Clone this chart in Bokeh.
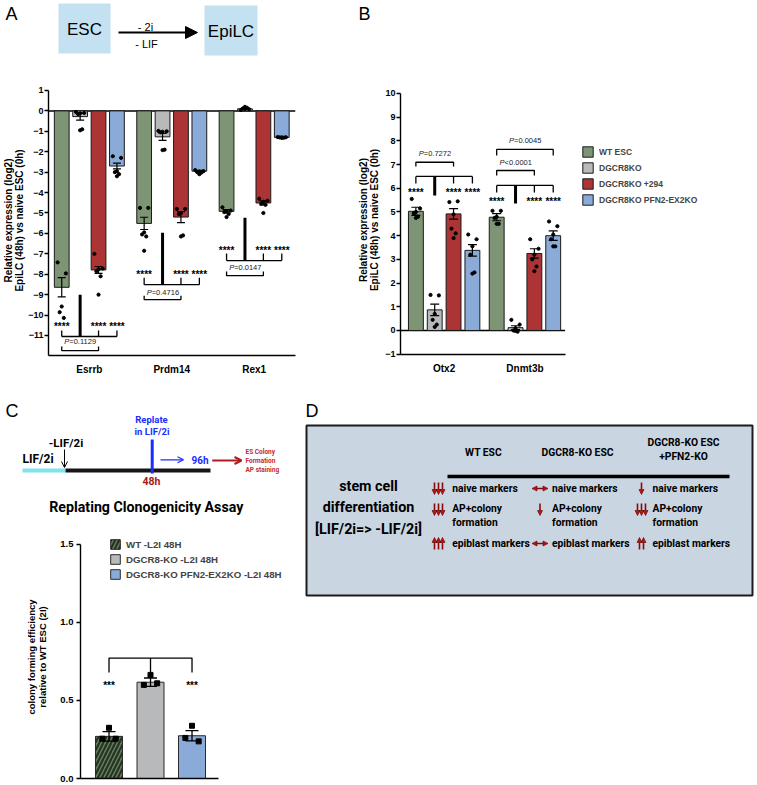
from bokeh.plotting import figure
from bokeh.layouts import row, column
from bokeh.models import (Range1d, FixedTicker, Whisker, TeeHead, Legend, LegendItem,
                          ColumnDataSource, Arrow, NormalHead, OpenHead,
                          PrintfTickFormatter)
from bokeh.core.properties import value
from bokeh.embed import file_html
from bokeh.resources import INLINE

SANS = "Liberation Sans"
NARROW = "Roboto"

# ================= DATA =================
series_names = ["WT ESC", "DGCR8KO", "DGCR8KO +294", "DGCR8KO PFN2-EX2KO"]
series_colors = ["#7d9574", "#b8b9bb", "#ad3434", "#8aabd8"]

# ---- Panel A: naive markers ----
genes_A = ["Esrrb", "Prdm14", "Rex1"]
mean_wt_A = [-8.64, -5.51, -4.92]
mean_ko_A = [-0.28, -1.27, 0.10]
mean_294_A = [-7.79, -5.20, -4.51]
mean_pfn_A = [-2.70, -2.95, -1.30]
sem_wt_A = [0.47, 0.30, 0.08]
sem_ko_A = [0.17, 0.17, 0.03]
sem_294_A = [0.17, 0.27, 0.10]
sem_pfn_A = [0.14, 0.04, 0.02]
dots_wt_A = [[-7.42, -7.96, -9.58, -9.86, -10.14],
             [-4.75, -4.75, -5.95, -6.05, -6.15, -6.85],
             [-4.72, -4.88, -4.92, -4.95, -5.05, -5.20]]
dots_ko_A = [[-0.05, -0.10, -0.12, -0.15, -0.90, -0.95],
             [-0.98, -1.00, -1.02, -1.05, -1.90, -1.92],
             [0.05, 0.08, 0.10, 0.12, 0.15, 0.20]]
dots_294_A = [[-7.00, -7.72, -7.75, -7.85, -8.10, -9.00],
              [-4.80, -4.80, -5.00, -5.05, -6.10, -6.15],
              [-4.30, -4.40, -4.45, -4.55, -4.60, -5.00]]
dots_pfn_A = [[-2.22, -2.30, -2.95, -3.00, -3.10, -3.20],
              [-2.90, -2.95, -2.97, -3.00, -3.02, -3.10],
              [-1.28, -1.29, -1.30, -1.30, -1.31, -1.32]]
# significance annotations (A)
stars_A = ["****", "****", "****"]
star_y_A = [-10.45, -7.91, -6.73]
bracket_y_A = [-11.05, -8.51, -7.33]
bracket_tick_A = [-10.75, -8.17, -6.99]
link_top_A = [-9.0, -5.97, -5.23]
p_text_A = ["=0.1129", "=0.4716", "=0.0147"]
p_y_A = [-11.30, -8.90, -7.68]
p_bracket_y_A = [-11.74, -9.24, -8.07]
p_tick_A = [-11.54, -9.05, -7.87]

# ---- Panel B: epiblast markers ----
genes_B = ["Otx2", "Dnmt3b"]
mean_wt_B = [5.03, 4.78]
mean_ko_B = [0.87, 0.12]
mean_294_B = [4.92, 3.25]
mean_pfn_B = [3.38, 4.00]
sem_wt_B = [0.17, 0.15]
sem_ko_B = [0.24, 0.08]
sem_294_B = [0.22, 0.20]
sem_pfn_B = [0.24, 0.20]
dots_wt_B = [[5.55, 5.15, 5.00, 4.95, 4.80, 4.75], [5.05, 5.05, 4.80, 4.75, 4.50, 4.50]]
dots_ko_B = [[1.50, 1.48, 0.70, 0.45, 0.25, 0.15], [0.45, 0.25, 0.10, 0.00, -0.05, -0.02]]
dots_294_B = [[5.42, 5.45, 4.90, 4.30, 4.10, 3.90], [3.85, 3.45, 3.20, 3.00, 2.70, 2.50]]
dots_pfn_B = [[4.05, 3.85, 3.55, 3.20, 2.45, 2.40], [4.60, 4.40, 4.05, 3.85, 3.55, 3.55]]
stars_B = ["****", "****"]
star_y_B = [5.91, 5.51]
bracket_y_B = [6.50, 6.12]
bracket_tick_B = [6.20, 5.82]
link_bot_B = [5.70, 5.36]
# pairwise p-value brackets (B): gene index, from series, to series
p_gene_B = [0, 1, 1]
p_from_B = [0, 0, 0]
p_to_B = [2, 2, 3]
p_text_B = ["=0.7272", "<0.0001", "=0.0045"]
p_bracket_y_B = [7.10, 6.75, 7.64]
p_tick_B = [6.92, 6.54, 7.38]
p_y_B = [7.48, 7.10, 8.02]

# ---- Panel C: replating clonogenicity ----
names_C = ["WT -L2I 48H", "DGCR8-KO -L2I 48H", "DGCR8-KO PFN2-EX2KO -L2I 48H"]
colors_C = ["#66805d", "#b8b9bb", "#8aabd8"]
mean_C = [0.270, 0.617, 0.274]
sem_C = [0.030, 0.027, 0.033]
dots_C = [[0.325, 0.255, 0.255], [0.664, 0.600, 0.610], [0.338, 0.260, 0.238]]
stars_C = ["***", "", "***"]
star_y_C = 0.606
bracket_y_C = 0.772
bracket_tick_C = 0.680

# ---- Panel D: summary table ----
D_title = ["stem cell", "differentiation", "[LIF/2i=> -LIF/2i]"]
D_header = [["WT ESC"], ["DGCR8-KO ESC"], ["DGCR8-KO ESC", "+PFN2-KO"]]
D_rows = [["naive markers"], ["AP+colony", "formation"], ["epiblast markers"]]
D_effects = [["down3", "both", "down1"],
             ["down3", "down1", "down3"],
             ["up3", "both", "up2"]]

JIT = [-0.28, 0.28, 0.0, -0.14, 0.14, 0.0]


# ================= HELPERS =================
def base_fig(w, h, xr, yr, left, right, top, bottom, axes=True):
    kw = {}
    if not axes:
        kw = dict(x_axis_type=None, y_axis_type=None)
    p = figure(width=w, height=h, x_range=xr, y_range=yr, output_backend="svg",
               toolbar_location=None, min_border_left=left, min_border_right=right,
               min_border_top=top, min_border_bottom=bottom, **kw)
    p.frame_align = False
    p.outline_line_color = None
    p.background_fill_color = "white"
    p.border_fill_color = "white"
    if axes:
        p.grid.visible = False
    return p


def style_axis(ax, size="9px"):
    ax.axis_line_color = "black"
    ax.axis_line_width = 1.4
    ax.major_tick_line_color = "black"
    ax.major_tick_line_width = 1.3
    ax.major_tick_out = 4
    ax.major_tick_in = 0
    ax.minor_tick_out = 0
    ax.minor_tick_in = 0
    ax.major_label_text_font = SANS
    ax.major_label_text_font_style = "bold"
    ax.major_label_text_font_size = size
    ax.major_label_text_color = "black"
    ax.major_label_standoff = 1
    ax.axis_label_text_font = SANS
    ax.axis_label_text_font_style = "bold"
    ax.axis_label_text_font_size = "10px"
    ax.axis_label_text_color = "black"
    ax.axis_label_text_line_height = 1.0


def draw_bars(p, ngroups, means, sems, dots, sp, bw, cap, dsize):
    rends = []
    for s in range(4):
        xs = [g + 1 + (s - 1.5) * sp for g in range(ngroups)]
        r = p.vbar(x=xs, top=means[s], bottom=0, width=bw, fill_color=series_colors[s],
                   line_color="#1a1a1a", line_width=1)
        rends.append(r)
        src = ColumnDataSource(dict(x=xs,
                                    up=[m + e for m, e in zip(means[s], sems[s])],
                                    lo=[m - e for m, e in zip(means[s], sems[s])]))
        w = Whisker(source=src, base="x", upper="up", lower="lo", line_color="black",
                    line_width=1.2,
                    upper_head=TeeHead(size=cap, line_color="black", line_width=1.2),
                    lower_head=TeeHead(size=cap, line_color="black", line_width=1.2))
        w.level = "annotation"
        p.add_layout(w)
        dx, dy = [], []
        for g in range(ngroups):
            for i, v in enumerate(dots[s][g]):
                dx.append(xs[g] + JIT[i % len(JIT)] * bw)
                dy.append(v)
        p.scatter(dx, dy, marker="circle", size=dsize, color="black")
    return rends


def ptext(p, xc, y, rest, unit):
    # italic "P" followed by the value, centred on xc
    shift = 11.0 / unit
    p.text(x=[xc - shift], y=[y], text=["P"], text_font=value(SANS),
           text_font_style="italic", text_font_size=value("7.5px"), text_align="right",
           text_baseline="middle", text_color="#222")
    p.text(x=[xc - shift], y=[y], text=[rest], text_font=value(SANS),
           text_font_size=value("7.5px"), text_align="left", text_baseline="middle",
           text_color="#222")


def label(p, x, y, t, size, font=SANS, style="normal", color="black", align="center",
          baseline="middle"):
    p.text(x=[x], y=[y], text=[t], text_font=value(font), text_font_style=style,
           text_font_size=value(size), text_color=color, text_align=align,
           text_baseline=baseline)


# ================= TOP STRIP (panel letters A, B + scheme) =================
dTop = base_fig(755, 75, Range1d(0, 755), Range1d(75, 0), 0, 0, 0, 0, axes=False)
label(dTop, 5, 3, "A", "18px", align="left", baseline="top")
label(dTop, 358, 3, "B", "18px", align="left", baseline="top")
dTop.quad(left=[58, 204], right=[110, 257], top=[3, 5], bottom=[53, 55],
          fill_color="#c3e1f1", line_color=None)
label(dTop, 84, 29, "ESC", "17px")
label(dTop, 230.5, 31, "EpiLC", "17px")
dTop.add_layout(Arrow(x_start=118, y_start=32, x_end=197, y_end=32, line_width=2,
                      line_color="black",
                      end=NormalHead(size=12, fill_color="black", line_color="black")))
label(dTop, 145, 26, "- 2i", "11px")
label(dTop, 146, 43.5, "- LIF", "11px")

# ================= PANEL A PLOT =================
UA = 83.75
SPA = 18.7 / UA
BWA = 15.0 / UA
xA0, xA1 = 0.5045, 3.5015
pA = base_fig(355, 310, Range1d(xA0, xA1), Range1d(-11.98, 1.244), 44, 60, 10, 30)
style_axis(pA.yaxis[0])
style_axis(pA.xaxis[0], size="10px")
pA.yaxis.ticker = FixedTicker(ticks=list(range(-11, 2)))
pA.yaxis.bounds = (-11.98, 1)
pA.yaxis.axis_label = "Relative expression (log2)\nEpiLC (48h) vs naive ESC (0h)"
pA.yaxis.axis_label_standoff = 0
pA.xaxis.ticker = FixedTicker(ticks=[1, 2, 3])
pA.xaxis.major_label_overrides = {1: genes_A[0], 2: genes_A[1], 3: genes_A[2]}
pA.xaxis.major_tick_out = 0
pA.xaxis.major_label_standoff = 8

means_A = [mean_wt_A, mean_ko_A, mean_294_A, mean_pfn_A]
sems_A = [sem_wt_A, sem_ko_A, sem_294_A, sem_pfn_A]
dots_A = [dots_wt_A, dots_ko_A, dots_294_A, dots_pfn_A]
pA.segment(x0=[xA0], y0=[0], x1=[xA1], y1=[0], line_color="black", line_width=1.5)
draw_bars(pA, 3, means_A, sems_A, dots_A, SPA, BWA, 8, 3.2)

sx, sy, st = [], [], []
lxs, lys = [], []
kxs, kys = [], []
for g in range(3):
    xs = [g + 1 + (s - 1.5) * SPA for s in range(4)]
    for s in (0, 2, 3):
        sx.append(xs[s]); sy.append(star_y_A[g]); st.append(stars_A[g])
        lxs.append([xs[s], xs[s]]); lys.append([bracket_tick_A[g], bracket_y_A[g]])
    lxs.append([xs[0], xs[3]]); lys.append([bracket_y_A[g], bracket_y_A[g]])
    kxs.append([xs[1], xs[1]]); kys.append([link_top_A[g], bracket_y_A[g]])
    # p-value bracket WT vs +294
    lxs.append([xs[0], xs[0], xs[2], xs[2]])
    lys.append([p_tick_A[g], p_bracket_y_A[g], p_bracket_y_A[g], p_tick_A[g]])
    ptext(pA, (xs[0] + xs[2]) / 2, p_y_A[g], p_text_A[g], UA)
pA.multi_line(xs=lxs, ys=lys, line_color="black", line_width=1.3)
pA.multi_line(xs=kxs, ys=kys, line_color="black", line_width=3)
pA.text(x=sx, y=sy, text=st, text_font=value(SANS), text_font_style="bold",
        text_font_size=value("10px"), text_align="center", text_baseline="middle",
        y_offset=2, text_color="black")

# ================= PANEL B PLOT =================
UB = 81.5
PXB = 23.7
SPB = 19.0 / UB
BWB = 15.0 / UB
xB0, xB1 = 0.46, 4.791
xBaxis = 2.497
yB1 = 10 + 8 / PXB
pB = base_fig(400, 310, Range1d(xB0, xB1), Range1d(-1.013, yB1), 42, 5, 10, 31)
style_axis(pB.yaxis[0])
style_axis(pB.xaxis[0], size="10px")
pB.yaxis.ticker = FixedTicker(ticks=list(range(-1, 11)))
pB.yaxis.bounds = (-1.013, 10)
pB.yaxis.axis_label = "Relative expression (log2)\nEpiLC (48h) vs naive ESC (0h)"
pB.yaxis.axis_label_standoff = 2
pB.xaxis.ticker = FixedTicker(ticks=[1, 2])
pB.xaxis.major_label_overrides = {1: genes_B[0], 2: genes_B[1]}
pB.xaxis.major_tick_out = 0
pB.xaxis.major_label_standoff = 8
pB.xaxis.bounds = (xB0, xBaxis)

means_B = [mean_wt_B, mean_ko_B, mean_294_B, mean_pfn_B]
sems_B = [sem_wt_B, sem_ko_B, sem_294_B, sem_pfn_B]
dots_B = [dots_wt_B, dots_ko_B, dots_294_B, dots_pfn_B]
pB.segment(x0=[xB0], y0=[0], x1=[xBaxis], y1=[0], line_color="black", line_width=1.5)
rB = draw_bars(pB, 2, means_B, sems_B, dots_B, SPB, BWB, 9, 3.2)

sx, sy, st = [], [], []
lxs, lys = [], []
kxs, kys = [], []
for g in range(2):
    xs = [g + 1 + (s - 1.5) * SPB for s in range(4)]
    for s in (0, 2, 3):
        sx.append(xs[s]); sy.append(star_y_B[g]); st.append(stars_B[g])
        lxs.append([xs[s], xs[s]]); lys.append([bracket_tick_B[g], bracket_y_B[g]])
    lxs.append([xs[0], xs[3]]); lys.append([bracket_y_B[g], bracket_y_B[g]])
    kxs.append([xs[1], xs[1]]); kys.append([link_bot_B[g], bracket_y_B[g]])
for k in range(3):
    g = p_gene_B[k]
    xa = g + 1 + (p_from_B[k] - 1.5) * SPB
    xb = g + 1 + (p_to_B[k] - 1.5) * SPB
    lxs.append([xa, xa, xb, xb])
    lys.append([p_tick_B[k], p_bracket_y_B[k], p_bracket_y_B[k], p_tick_B[k]])
    ptext(pB, (xa + xb) / 2, p_y_B[k], p_text_B[k], UB)
pB.multi_line(xs=lxs, ys=lys, line_color="black", line_width=1.3)
pB.multi_line(xs=kxs, ys=kys, line_color="black", line_width=3)
pB.text(x=sx, y=sy, text=st, text_font=value(SANS), text_font_style="bold",
        text_font_size=value("10px"), text_align="center", text_baseline="middle",
        y_offset=2, text_color="black")

legB = Legend(items=[LegendItem(label=series_names[i], renderers=[rB[i]]) for i in range(4)],
              location=(181, 148), orientation="vertical")
legB.glyph_width = 13
legB.glyph_height = 13
legB.label_height = 13
legB.spacing = 3
legB.padding = 0
legB.margin = 0
legB.label_standoff = 5
legB.border_line_color = None
legB.background_fill_alpha = 0
legB.label_text_font = SANS
legB.label_text_font_style = "bold"
legB.label_text_font_size = "8.5px"
pB.add_layout(legB)

# ================= PANEL C DIAGRAM =================
dC = base_fig(300, 142, Range1d(0, 300), Range1d(142, 0), 0, 0, 0, 0, axes=False)
label(dC, 5, 15, "C", "18px", align="left", baseline="top")
dC.segment(x0=[22], y0=[85], x1=[65], y1=[85], line_color="#7fe3ee", line_width=4)
dC.segment(x0=[65], y0=[85], x1=[210], y1=[85], line_color="#161616", line_width=4)
dC.segment(x0=[151.7], y0=[54], x1=[151.7], y1=[88], line_color="#1a2cff", line_width=3)
dC.add_layout(Arrow(x_start=64, y_start=64, x_end=64, y_end=82, line_width=1,
                    line_color="black", end=OpenHead(size=6, line_color="black", line_width=1)))
dC.add_layout(Arrow(x_start=160, y_start=74.3, x_end=183, y_end=74.3, line_width=1.2,
                    line_color="#1a2cff", end=OpenHead(size=6, line_color="#1a2cff", line_width=1.2)))
dC.add_layout(Arrow(x_start=211.7, y_start=75, x_end=241, y_end=75, line_width=2,
                    line_color="#b01c1c", end=OpenHead(size=7, line_color="#b01c1c", line_width=2)))
label(dC, 37.5, 73.5, "LIF/2i", "12px", font=NARROW, style="bold")
label(dC, 65.5, 57, "-LIF/2i", "11.5px", font=NARROW, style="bold")
label(dC, 151, 34, "Replate", "9.5px", font=NARROW, style="bold", color="#1a2cff")
label(dC, 151.5, 46, "in LIF/2i", "9.5px", font=NARROW, style="bold", color="#1a2cff")
label(dC, 199.5, 74.5, "96h", "10px", font=NARROW, style="bold", color="#1a2cff")
label(dC, 151, 96, "48h", "10.5px", font=NARROW, style="bold", color="#a31818")
for t, yy in zip(["ES Colony", "Formation", "AP staining"], [66.7, 75, 84.3]):
    label(dC, 245, yy, t, "6.5px", font=NARROW, style="bold", color="#c42a2a", align="left")
label(dC, 145.8, 121.7, "Replating Clonogenicity Assay", "14.2px", font=NARROW, style="bold")

# ================= PANEL C PLOT =================
UC = 41.5
BWC = 27.0 / UC
xC0, xC1 = 0.313, 5.614
pC = base_fig(300, 256, Range1d(xC0, xC1), Range1d(0, 1.5574), 80, 0, 8, 5)
style_axis(pC.yaxis[0], size="9.5px")
style_axis(pC.xaxis[0])
pC.yaxis.ticker = FixedTicker(ticks=[0, 0.5, 1.0, 1.5])
pC.yaxis.formatter = PrintfTickFormatter(format="%.1f")
pC.yaxis.bounds = (0, 1.5)
pC.yaxis.major_label_standoff = 3
pC.yaxis.axis_label = "colony forming efficiency\nrelative to WT ESC (2I)"
pC.yaxis.axis_label_text_font_size = "9.5px"
pC.yaxis.axis_label_standoff = 9
pC.xaxis.ticker = FixedTicker(ticks=[])
pC.xaxis.major_label_text_font_size = "0px"
pC.xaxis.major_tick_out = 0
pC.xaxis.major_label_standoff = 0
pC.xaxis.bounds = (xC0, 3.64)

rC = []
for s in range(3):
    kw = dict(fill_color=colors_C[s], line_color="#2a2a2a", line_width=1)
    if s == 0:
        kw.update(hatch_pattern="/", hatch_color="#263324", hatch_weight=2.2, hatch_scale=8)
    r = pC.vbar(x=[s + 1], top=[mean_C[s]], bottom=0, width=BWC, **kw)
    rC.append(r)
srcC = ColumnDataSource(dict(x=[1, 2, 3], up=[m + e for m, e in zip(mean_C, sem_C)],
                             lo=[m - e for m, e in zip(mean_C, sem_C)]))
wC = Whisker(source=srcC, base="x", upper="up", lower="lo", line_color="black", line_width=1.3,
             upper_head=TeeHead(size=13, line_color="black", line_width=1.3),
             lower_head=TeeHead(size=13, line_color="black", line_width=1.3))
wC.level = "annotation"
pC.add_layout(wC)
cdx, cdy = [], []
for s in range(3):
    for i, v in enumerate(dots_C[s]):
        cdx.append(s + 1 + [0.0, -0.16, 0.16][i])
        cdy.append(v)
pC.scatter(cdx, cdy, marker="square", size=5, color="black")
pC.multi_line(xs=[[1, 1, 3, 3], [2, 2]],
              ys=[[bracket_tick_C, bracket_y_C, bracket_y_C, bracket_tick_C],
                  [bracket_tick_C, bracket_y_C]],
              line_color="black", line_width=1.3)
pC.text(x=[1, 3], y=[star_y_C, star_y_C], text=[stars_C[0], stars_C[2]],
        text_font=value(SANS), text_font_style="bold", text_font_size=value("10px"),
        text_align="center", text_baseline="middle", y_offset=2, text_color="black")
legC = Legend(items=[LegendItem(label=names_C[i], renderers=[rC[i]]) for i in range(3)],
              location=(29, 198), orientation="vertical")
legC.glyph_width = 12
legC.glyph_height = 12
legC.label_height = 12
legC.spacing = 3
legC.padding = 0
legC.margin = 0
legC.label_standoff = 5
legC.border_line_color = None
legC.background_fill_alpha = 0
legC.label_text_font = SANS
legC.label_text_font_style = "bold"
legC.label_text_font_size = "9.7px"
pC.add_layout(legC)

# ================= PANEL D =================
pD = base_fig(455, 398, Range1d(0, 455), Range1d(398, 0), 0, 0, 0, 0, axes=False)
label(pD, 5, 15, "D", "18px", align="left", baseline="top")
pD.quad(left=[6], right=[452], top=[40], bottom=[210], fill_color="#c9d5e1",
        line_color="#1c1c1c", line_width=2)
for t, yy in zip(D_title, [100, 121, 143]):
    label(pD, 68, yy, t, "14.3px", font=NARROW, style="bold")
head_x = [183, 277, 383]
for c in range(3):
    lines = D_header[c]
    ys = [66.7] if len(lines) == 1 else [56.7, 70.7]
    for t, yy in zip(lines, ys):
        label(pD, head_x[c], yy, t, "10.3px", font=NARROW, style="bold")
pD.segment(x0=[147], y0=[91], x1=[429], y1=[91], line_color="black", line_width=3.5)

arrow_x = [138, 239.5, 341]
text_x = [151.7, 251.5, 352]
row_y = [[102.7], [123, 137], [158]]
arrow_y = [103, 124, 158]
ARED = "#c01010"
down_src = dict(xs=[], ys=[], xe=[], ye=[])
up_src = dict(xs=[], ys=[], xe=[], ye=[])
both_src = dict(xs=[], ys=[], xe=[], ye=[])
for r in range(3):
    for c in range(3):
        eff = D_effects[r][c]
        ax, ay = arrow_x[c], arrow_y[r]
        if eff == "both":
            both_src["xs"].append(ax - 8); both_src["xe"].append(ax + 8)
            both_src["ys"].append(ay); both_src["ye"].append(ay)
        else:
            n = int(eff[-1])
            offs = [(i - (n - 1) / 2) * 4.0 for i in range(n)]
            tgt = down_src if eff.startswith("down") else up_src
            for o in offs:
                tgt["xs"].append(ax + o); tgt["xe"].append(ax + o)
                if eff.startswith("down"):
                    tgt["ys"].append(ay - 6); tgt["ye"].append(ay + 6)
                else:
                    tgt["ys"].append(ay + 6); tgt["ye"].append(ay - 6)
        for t, yy in zip(D_rows[r], row_y[r]):
            label(pD, text_x[c], yy, t, "10.3px", font=NARROW, style="bold", align="left")
for srcd, start in ((down_src, False), (up_src, False), (both_src, True)):
    src = ColumnDataSource(srcd)
    head = lambda: NormalHead(size=5, fill_color=ARED, line_color="#5a0000", line_width=0.6)
    pD.add_layout(Arrow(source=src, x_start="xs", y_start="ys", x_end="xe", y_end="ye",
                        line_color="#8a0a0a", line_width=1.6, end=head(),
                        start=head() if start else None))

# ================= LAYOUT =================
root = column(dTop,
              row(pA, pB, spacing=0),
              row(column(dC, pC, spacing=0), pD, spacing=0), spacing=0)

open("out.html", "w").write(file_html(root, INLINE))
